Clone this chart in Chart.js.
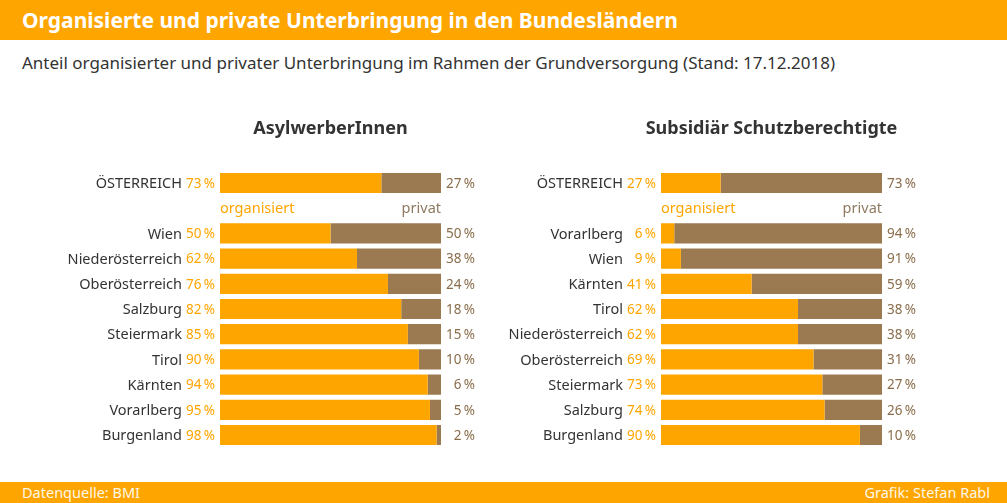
<!DOCTYPE html>
<html lang="de">
<head>
<meta charset="utf-8">
<script src="https://cdn.jsdelivr.net/npm/chart.js@4"></script>
<style>
  body { margin: 0; width: 1007px; height: 503px; position: relative; overflow: hidden; background: #fff; font-family: "Noto Sans", sans-serif; }
  .head { position: absolute; left: 0; top: 0; width: 1007px; height: 40px; background: #ffa500; color: #fff; font-weight: bold; font-size: 21px; line-height: 40px; padding-left: 22px; box-sizing: border-box; }
  .sub { position: absolute; left: 22px; top: 50px; font-size: 17px; color: #333; line-height: 26px; }
  .foot { position: absolute; left: 0; top: 482px; width: 1007px; height: 21px; background: #ffa500; color: #fff8e8; font-size: 14.5px; line-height: 21px; }
  .foot .l { position: absolute; left: 22px; }
  .foot .r { position: absolute; right: 17px; }
  canvas { position: absolute; top: 100px; }
</style>
</head>
<body>
<div class="head">Organisierte und private Unterbringung in den Bundesländern</div>
<div class="sub">Anteil organisierter und privater Unterbringung im Rahmen der Grundversorgung (Stand: 17.12.2018)</div>
<canvas id="asyl" width="503" height="370" style="left:0px"></canvas>
<canvas id="subs" width="503" height="370" style="left:441px"></canvas>
<div class="foot"><span class="l">Datenquelle: BMI</span><span class="r">Grafik: Stefan Rabl</span></div>

<script>
// Daten
// ""-Zeile = Platz für "organisiert / privat"

const asylLaender = ['ÖSTERREICH', '', 'Wien', 'Niederösterreich', 'Oberösterreich', 'Salzburg', 'Steiermark', 'Tirol', 'Kärnten', 'Vorarlberg', 'Burgenland'];
const asylOrganisiert = [73, null, 50, 62, 76, 82, 85, 90, 94, 95, 98];
const asylPrivat = [27, null, 50, 38, 24, 18, 15, 10, 6, 5, 2];

const subsLaender = ['ÖSTERREICH', '', 'Vorarlberg', 'Wien', 'Kärnten', 'Tirol', 'Niederösterreich', 'Oberösterreich', 'Steiermark', 'Salzburg', 'Burgenland'];
const subsOrganisiert = [27, null, 6, 9, 41, 62, 62, 69, 73, 74, 90];
const subsPrivat = [73, null, 94, 91, 59, 38, 38, 31, 27, 26, 10];

const ORANGE = '#ffa500';
const BRAUN = '#9b7a52';
const TEXT = '#333333';
const FONT = '"Noto Sans", sans-serif';

const pct = (v) => v + '\u2009%';


// Beschriftungen
// 
// 

const labelPlugin = {
    id: 'labels',
    afterDraw(chart, args, opts) {
        const ctx = chart.ctx;
        const area = chart.chartArea;
        const y = chart.scales.y;
        const org = chart.data.datasets[0].data;
        const priv = chart.data.datasets[1].data;

        ctx.save();
        ctx.textBaseline = 'middle';

        // Titel
        ctx.font = 'bold 18px ' + FONT;
        ctx.fillStyle = TEXT;
        ctx.textAlign = 'center';
        ctx.fillText(opts.title, (area.left + area.right) / 2, 29);

        chart.data.labels.forEach((name, i) => {
            const yy = y.getPixelForValue(i) + 1;
            if (org[i] === null) {
                ctx.font = '14.5px ' + FONT;
                ctx.textAlign = 'left';
                ctx.fillStyle = ORANGE;
                ctx.fillText('organisiert', area.left, yy);
                ctx.textAlign = 'right';
                ctx.fillStyle = '#8f7a60';
                ctx.fillText('privat', area.right, yy);
                return;
            }
            ctx.font = '14.5px ' + FONT;
            ctx.textAlign = 'right';
            ctx.fillStyle = TEXT;
            ctx.fillText(name, area.left - 38, yy);

            ctx.font = '13.5px ' + FONT;
            ctx.fillStyle = ORANGE;
            ctx.fillText(pct(org[i]), area.left - 5, yy);

            // privat rechtsbündig
            ctx.fillStyle = '#8a6e4c';
            ctx.fillText(pct(priv[i]), area.right + 34, yy);
        });
        ctx.restore();
    }
};

function makeChart(id, title, labels, organisiert, privat) {
    const ctx = document.getElementById(id).getContext('2d');
    return new Chart(ctx, {
        type: 'bar',
        data: {
            labels: labels,
            datasets: [
                { label: 'organisiert', data: organisiert, backgroundColor: ORANGE },
                { label: 'privat', data: privat, backgroundColor: BRAUN }
            ]
        },
        options: {
            indexAxis: 'y',
            responsive: false,
            animation: false,
            devicePixelRatio: 1,
            categoryPercentage: 1,
            barPercentage: 0.8,
            layout: {
                padding: { left: 220, right: 62, top: 70.4, bottom: 22.4 }
            },
            scales: {
                x: { stacked: true, min: 0, max: 100, display: false },
                y: { stacked: true, display: false }
            },
            plugins: {
                legend: { display: false },
                tooltip: { enabled: false },
                labels: { title: title }
            }
        },
        plugins: [labelPlugin]
    });
}

makeChart('asyl', 'AsylwerberInnen', asylLaender, asylOrganisiert, asylPrivat);
makeChart('subs', 'Subsidiär Schutzberechtigte', subsLaender, subsOrganisiert, subsPrivat);
</script>
</body>
</html>
